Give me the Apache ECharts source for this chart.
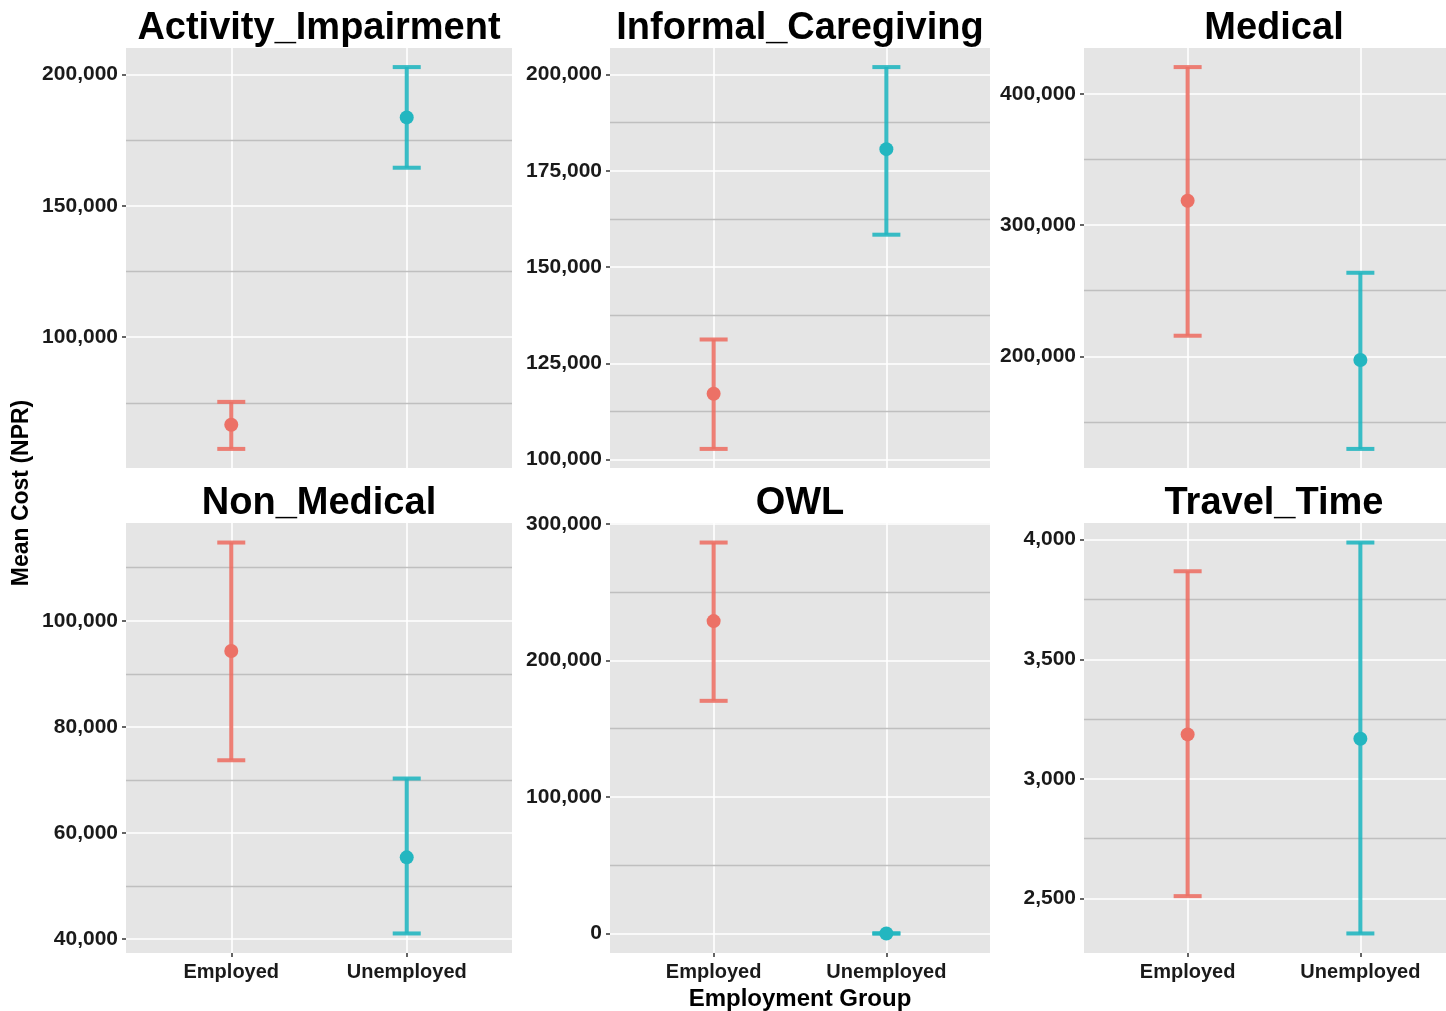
<!DOCTYPE html>
<html>
<head>
<meta charset="utf-8">
<script src="https://cdn.jsdelivr.net/npm/echarts@6/dist/echarts.min.js"></script>
<style>
html,body{margin:0;padding:0;background:#fff;}
#chart{width:1446px;height:1011px;}
</style>
</head>
<body>
<div id="chart"></div>
<script>
// ---- data ----
const groups = ['Employed', 'Unemployed'];
const panels = ['Activity_Impairment', 'Informal_Caregiving', 'Medical', 'Non_Medical', 'OWL', 'Travel_Time'];
const employedMean = [66700, 117100, 318500, 94300, 228800, 3186];
const employedLow  = [57500, 102800, 215700, 73700, 170400, 2510];
const employedHigh = [75400, 131200, 420300, 114750, 286350, 3868];
const unemployedMean = [183650, 180600, 197200, 55400, 0, 3168];
const unemployedLow  = [164500, 158400, 129500, 41050, 0, 2354];
const unemployedHigh = [202800, 201900, 263650, 70260, 0, 3988];
const majorTicks = [
  [100000, 150000, 200000],
  [100000, 125000, 150000, 175000, 200000],
  [200000, 300000, 400000],
  [40000, 60000, 80000, 100000],
  [0, 100000, 200000, 300000],
  [2500, 3000, 3500, 4000]
];
const minorTicks = [
  [75000, 125000, 175000],
  [112500, 137500, 162500, 187500],
  [150000, 250000, 350000],
  [50000, 70000, 90000, 110000],
  [50000, 150000, 250000],
  [2750, 3250, 3750]
];
const yAxisTitle = 'Mean Cost (NPR)';
const xAxisTitle = 'Employment Group';

// ---- styling / layout ----
const colors = ['#EC7166', '#23B6C0'];
const FONT = '"Liberation Sans", Arial, Helvetica, sans-serif';
const colLeft = [126, 610, 1084];
const colWidth = [386, 380, 380];
const rowTop = [48, 523];
const rowHeight = [420, 430];

const grids = [], xAxes = [], yAxes = [], series = [], graphics = [];

panels.forEach((name, i) => {
  const r = Math.floor(i / 3), c = i % 3;
  const bottomRow = r === 1;
  grids.push({
    left: colLeft[c], top: rowTop[r], width: colWidth[c], height: rowHeight[r],
    show: true, backgroundColor: '#E5E5E5', borderWidth: 0,
    containLabel: false, outerBoundsMode: 'none'
  });
  const lo = Math.min(employedLow[i], unemployedLow[i]);
  const hi = Math.max(employedHigh[i], unemployedHigh[i]);
  const pad = (hi - lo) * 0.05;
  xAxes.push({
    type: 'value', gridIndex: i, min: 0.4, max: 2.6, position: 'bottom',
    axisLine: { show: false, onZero: false },
    axisTick: { show: bottomRow, customValues: [1, 2], length: 4, lineStyle: { color: '#333', width: 1.5 } },
    axisLabel: {
      show: bottomRow, customValues: [1, 2], margin: 9,
      formatter: v => groups[Math.round(v) - 1] || '',
      fontFamily: FONT, fontWeight: 'bold', fontSize: 20, color: '#1a1a1a'
    },
    splitLine: { show: true, lineStyle: { color: '#FFFFFF', width: 1.6 } }
  });
  yAxes.push({
    type: 'value', gridIndex: i, min: lo - pad, max: hi + pad,
    axisLine: { show: false, onZero: false },
    axisTick: { show: true, customValues: majorTicks[i], length: 4, lineStyle: { color: '#333', width: 1.5 } },
    axisLabel: {
      customValues: majorTicks[i], margin: 8,
      formatter: v => Math.round(v).toLocaleString('en-US'),
      fontFamily: FONT, fontWeight: 'bold', fontSize: 21, color: '#1a1a1a'
    },
    splitLine: { show: true, lineStyle: { color: '#FFFFFF', width: 1.6 } }
  });
  // minor gridlines
  series.push({
    type: 'line', xAxisIndex: i, yAxisIndex: i, data: [], silent: true, z: 1,
    markLine: {
      silent: true, symbol: ['none', 'none'], animation: false,
      label: { show: false },
      lineStyle: { color: '#BFBFBF', width: 1.3, type: 'solid' },
      data: minorTicks[i].map(v => ({ yAxis: v }))
    }
  });
  // error bars + points
  series.push({
    type: 'custom', xAxisIndex: i, yAxisIndex: i, z: 5, silent: true,
    encode: { x: 0, y: [1, 2, 3] },
    data: [
      [1, employedLow[i], employedHigh[i], employedMean[i], 0],
      [2, unemployedLow[i], unemployedHigh[i], unemployedMean[i], 1]
    ],
    renderItem: (params, api) => {
      const x = api.value(0);
      const pLo = api.coord([x, api.value(1)]);
      const pHi = api.coord([x, api.value(2)]);
      const pM = api.coord([x, api.value(3)]);
      const col = colors[api.value(4)];
      const hw = 14;
      const ls = { stroke: col, lineWidth: 4, opacity: 0.9 };
      return {
        type: 'group',
        children: [
          { type: 'line', shape: { x1: pLo[0], y1: pLo[1], x2: pHi[0], y2: pHi[1] }, style: ls },
          { type: 'line', shape: { x1: pHi[0] - hw, y1: pHi[1], x2: pHi[0] + hw, y2: pHi[1] }, style: ls },
          { type: 'line', shape: { x1: pLo[0] - hw, y1: pLo[1], x2: pLo[0] + hw, y2: pLo[1] }, style: ls },
          { type: 'circle', shape: { cx: pM[0], cy: pM[1], r: 7 }, style: { fill: col } }
        ]
      };
    }
  });
  graphics.push({
    type: 'text', x: colLeft[c] + colWidth[c] / 2, y: rowTop[r] - 19,
    style: { text: name, font: 'bold 38px ' + FONT, fill: '#000', align: 'center', verticalAlign: 'middle' }
  });
});

graphics.push({
  type: 'text', x: 22, y: 493, rotation: Math.PI / 2,
  style: { text: yAxisTitle, font: 'bold 23px ' + FONT, fill: '#000', align: 'center', verticalAlign: 'middle' }
});
graphics.push({
  type: 'text', x: 800, y: 999,
  style: { text: xAxisTitle, font: 'bold 24px ' + FONT, fill: '#000', align: 'center', verticalAlign: 'middle' }
});

const chart = echarts.init(document.getElementById('chart'), null, { renderer: 'canvas' });
chart.setOption({
  backgroundColor: '#FFFFFF',
  animation: false,
  grid: grids,
  xAxis: xAxes,
  yAxis: yAxes,
  series: series,
  graphic: graphics
});
</script>
</body>
</html>
